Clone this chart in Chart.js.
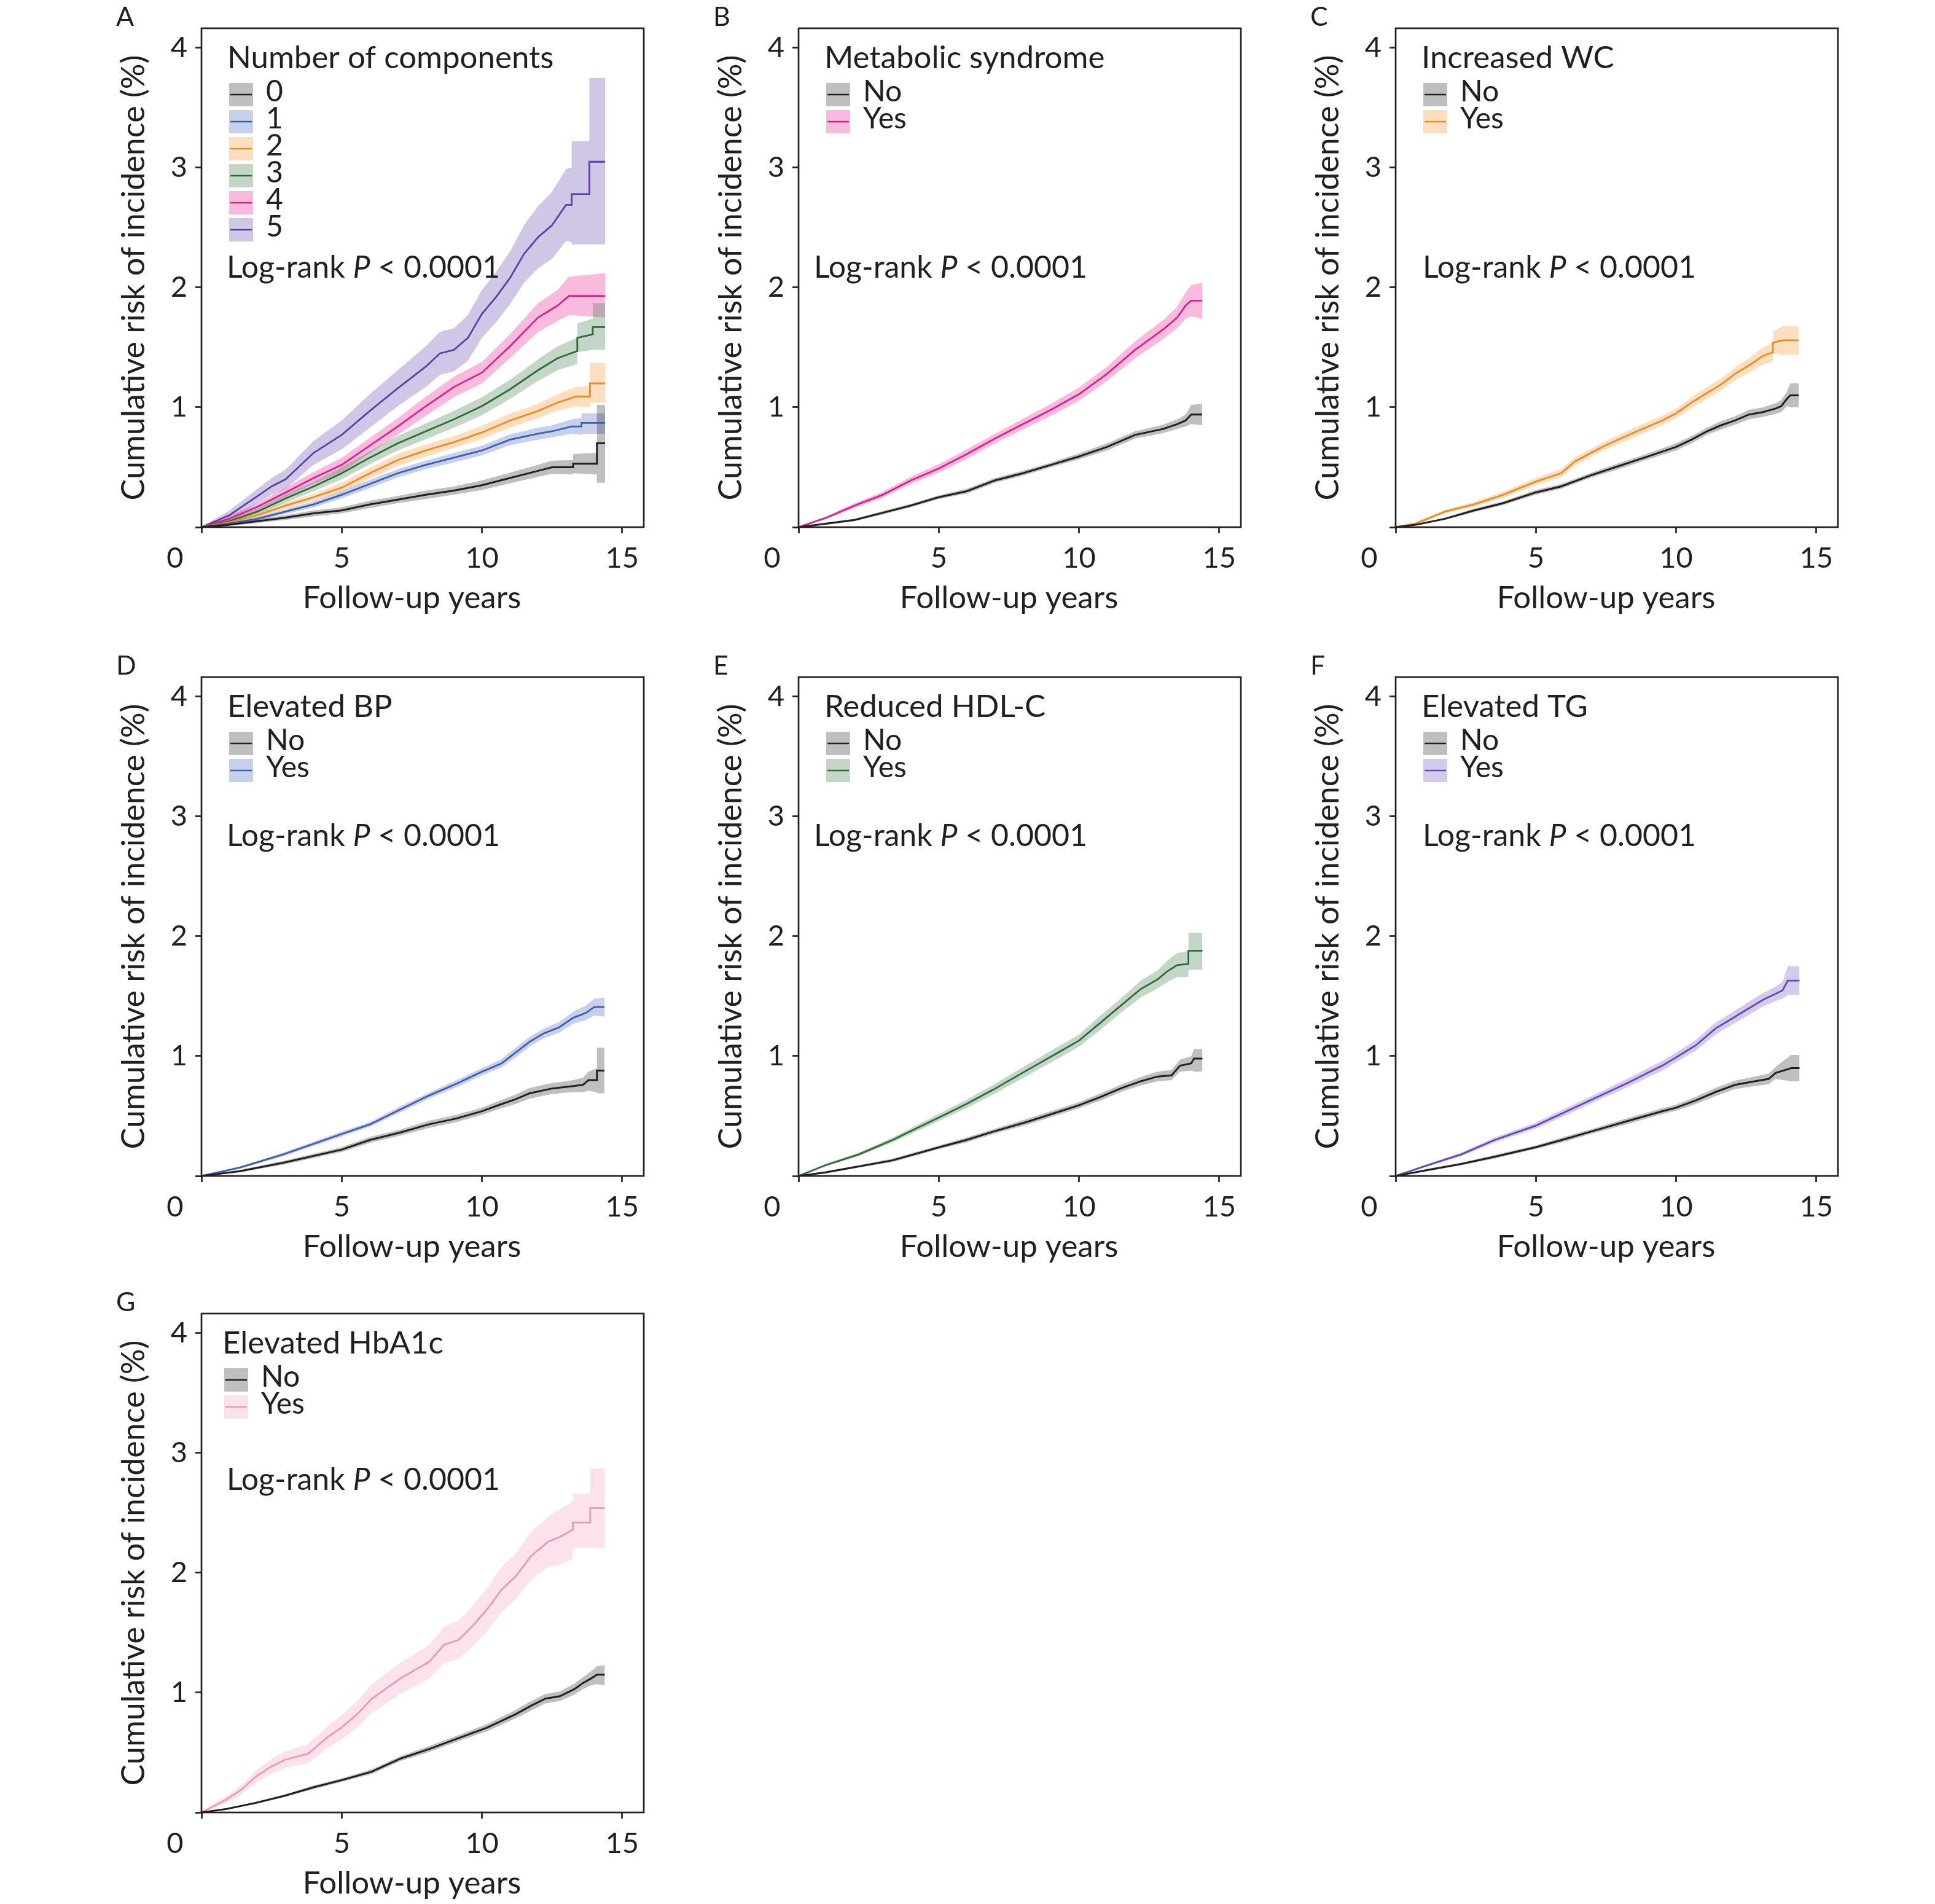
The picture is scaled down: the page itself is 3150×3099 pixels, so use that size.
<!DOCTYPE html>
<html>
<head>
<meta charset="utf-8">
<script src="https://cdn.jsdelivr.net/npm/chart.js@4.4.1/dist/chart.umd.min.js"></script>
<style>
  html, body { margin: 0; padding: 0; background: #ffffff; }
  body { width: 3150px; height: 3099px; position: relative; overflow: hidden; }
  canvas { position: absolute; }
</style>
</head>
<body>
<script>
// ---------------- DATA ----------------
const X_TICKS = [0, 5, 10, 15];
const Y_TICKS = [0, 1, 2, 3, 4];
const A_labels = ['0', '1', '2', '3', '4', '5'];
const NY_labels = ['No', 'Yes'];
const TITLES = ['Number of components', 'Metabolic syndrome', 'Increased WC', 'Elevated BP', 'Reduced HDL-C', 'Elevated TG', 'Elevated HbA1c'];
const LOGRANK = ['Log-rank ', 'P', ' < 0.0001'];

// Panel A
const A0_t   = [0, 1, 2, 3, 4, 5, 6, 7, 8, 9, 10, 11, 12, 12.5, 13.25, 13.25, 14.1, 14.1, 14.39];
const A0_est = [0, 0.02, 0.05, 0.08, 0.115, 0.14, 0.19, 0.23, 0.27, 0.305, 0.35, 0.41, 0.47, 0.50, 0.50, 0.53, 0.53, 0.70, 0.70];
const A0_lo  = [0, 0.01, 0.035, 0.06, 0.09, 0.115, 0.16, 0.20, 0.235, 0.27, 0.31, 0.365, 0.42, 0.445, 0.44, 0.45, 0.44, 0.37, 0.37];
const A0_hi  = [0, 0.03, 0.065, 0.10, 0.14, 0.165, 0.22, 0.26, 0.305, 0.34, 0.39, 0.455, 0.52, 0.555, 0.56, 0.61, 0.62, 1.02, 1.02];

const A1_t   = [0, 1, 2, 3, 4, 5, 6, 7, 8, 9, 10, 11, 12, 12.5, 13.2, 13.55, 13.55, 14.39];
const A1_est = [0, 0.03, 0.07, 0.13, 0.19, 0.27, 0.36, 0.45, 0.52, 0.58, 0.64, 0.73, 0.78, 0.80, 0.84, 0.84, 0.87, 0.87];
const A1_lo  = [0, 0.02, 0.055, 0.11, 0.165, 0.24, 0.325, 0.415, 0.485, 0.54, 0.60, 0.685, 0.73, 0.75, 0.78, 0.77, 0.78, 0.78];
const A1_hi  = [0, 0.04, 0.085, 0.15, 0.215, 0.30, 0.395, 0.485, 0.555, 0.62, 0.68, 0.775, 0.83, 0.85, 0.90, 0.91, 0.95, 0.95];

const A2_t   = [0, 1, 2, 3, 4, 5, 6, 7, 8, 9, 10, 11, 12, 12.7, 13.35, 13.85, 13.85, 14.39];
const A2_est = [0, 0.04, 0.10, 0.18, 0.25, 0.33, 0.45, 0.56, 0.64, 0.71, 0.79, 0.89, 0.97, 1.04, 1.09, 1.09, 1.20, 1.20];
const A2_lo  = [0, 0.025, 0.08, 0.155, 0.22, 0.29, 0.405, 0.51, 0.59, 0.66, 0.735, 0.83, 0.91, 0.97, 1.01, 1.00, 1.04, 1.04];
const A2_hi  = [0, 0.055, 0.12, 0.205, 0.28, 0.37, 0.495, 0.61, 0.69, 0.76, 0.845, 0.95, 1.03, 1.11, 1.17, 1.18, 1.37, 1.37];

const A3_t   = [0, 1, 2, 3, 4, 5, 6, 7, 8, 9, 10, 11, 12, 12.7, 13.4, 13.4, 13.95, 13.95, 14.39];
const A3_est = [0, 0.05, 0.13, 0.24, 0.34, 0.45, 0.58, 0.70, 0.80, 0.90, 1.01, 1.15, 1.31, 1.41, 1.47, 1.58, 1.61, 1.67, 1.67];
const A3_lo  = [0, 0.03, 0.105, 0.205, 0.30, 0.40, 0.525, 0.64, 0.735, 0.83, 0.935, 1.07, 1.22, 1.31, 1.36, 1.46, 1.48, 1.48, 1.48];
const A3_hi  = [0, 0.07, 0.155, 0.275, 0.38, 0.50, 0.635, 0.76, 0.865, 0.97, 1.085, 1.23, 1.40, 1.51, 1.58, 1.70, 1.74, 1.87, 1.87];

const A4_t   = [0, 1, 2, 3, 4, 5, 6, 7, 8, 9, 10, 11, 12, 12.7, 13.1, 14.39];
const A4_est = [0, 0.07, 0.17, 0.29, 0.41, 0.52, 0.68, 0.84, 1.01, 1.17, 1.29, 1.51, 1.75, 1.85, 1.93, 1.93];
const A4_lo  = [0, 0.045, 0.14, 0.25, 0.36, 0.46, 0.615, 0.77, 0.93, 1.085, 1.20, 1.41, 1.63, 1.72, 1.77, 1.75];
const A4_hi  = [0, 0.095, 0.20, 0.33, 0.46, 0.58, 0.745, 0.91, 1.09, 1.255, 1.38, 1.61, 1.87, 1.98, 2.09, 2.12];

const A5_t   = [0, 1, 1.5, 2, 2.5, 3, 4, 5, 6, 7, 8, 8.5, 9, 9.5, 10, 10.5, 11, 11.5, 12, 12.5, 13, 13.2, 13.2, 13.83, 13.83, 14.39];
const A5_est = [0, 0.10, 0.18, 0.26, 0.34, 0.40, 0.62, 0.77, 0.97, 1.16, 1.34, 1.45, 1.48, 1.58, 1.78, 1.92, 2.08, 2.28, 2.42, 2.52, 2.69, 2.69, 2.78, 2.78, 3.05, 3.05];
const A5_lo  = [0, 0.06, 0.13, 0.20, 0.27, 0.32, 0.52, 0.65, 0.83, 1.01, 1.17, 1.27, 1.30, 1.39, 1.58, 1.71, 1.86, 2.04, 2.16, 2.24, 2.39, 2.38, 2.36, 2.36, 2.36, 2.36];
const A5_hi  = [0, 0.14, 0.23, 0.32, 0.41, 0.48, 0.72, 0.89, 1.11, 1.31, 1.51, 1.63, 1.66, 1.77, 1.98, 2.13, 2.30, 2.52, 2.68, 2.80, 2.99, 3.00, 3.22, 3.22, 3.75, 3.75];

// Panel B
const B_t    = [0, 1, 2, 3, 4, 5, 6, 7, 8, 9, 10, 11, 12, 13, 13.5, 13.8, 14.0, 14.39];
const B0_est = [0, 0.03, 0.06, 0.12, 0.18, 0.25, 0.30, 0.39, 0.45, 0.52, 0.59, 0.67, 0.77, 0.82, 0.86, 0.89, 0.94, 0.94];
const B0_lo  = [0, 0.02, 0.05, 0.105, 0.165, 0.235, 0.28, 0.37, 0.43, 0.50, 0.565, 0.64, 0.74, 0.785, 0.82, 0.84, 0.86, 0.85];
const B0_hi  = [0, 0.04, 0.07, 0.135, 0.195, 0.265, 0.32, 0.41, 0.47, 0.54, 0.615, 0.70, 0.80, 0.855, 0.90, 0.94, 1.02, 1.03];
const B1_est = [0, 0.08, 0.18, 0.27, 0.39, 0.49, 0.61, 0.74, 0.86, 0.98, 1.11, 1.28, 1.48, 1.65, 1.75, 1.85, 1.89, 1.89];
const B1_lo  = [0, 0.07, 0.16, 0.245, 0.36, 0.455, 0.57, 0.70, 0.815, 0.93, 1.055, 1.22, 1.41, 1.57, 1.66, 1.74, 1.76, 1.74];
const B1_hi  = [0, 0.09, 0.20, 0.295, 0.42, 0.525, 0.65, 0.78, 0.905, 1.03, 1.165, 1.34, 1.55, 1.73, 1.84, 1.96, 2.02, 2.04];

// Panel C
const C0_t   = [0, 0.72, 1.76, 2.8, 3.83, 5, 5.9, 6.93, 7.96, 9, 10, 10.55, 11.1, 11.6, 12.1, 12.6, 13.1, 13.55, 13.75, 13.95, 14.07, 14.37];
const C0_est = [0, 0.02, 0.07, 0.14, 0.20, 0.29, 0.34, 0.43, 0.51, 0.59, 0.67, 0.73, 0.80, 0.85, 0.89, 0.94, 0.96, 0.99, 1.01, 1.07, 1.10, 1.10];
const C0_lo  = [0, 0.015, 0.06, 0.125, 0.185, 0.27, 0.32, 0.41, 0.485, 0.565, 0.64, 0.70, 0.77, 0.815, 0.855, 0.90, 0.92, 0.945, 0.96, 1.01, 1.00, 1.00];
const C0_hi  = [0, 0.025, 0.08, 0.155, 0.215, 0.31, 0.36, 0.45, 0.535, 0.615, 0.70, 0.76, 0.83, 0.885, 0.925, 0.98, 1.00, 1.035, 1.06, 1.13, 1.20, 1.20];
const C1_t   = [0, 0.72, 1.76, 2.8, 3.83, 5, 5.9, 6.4, 7.45, 8.5, 9.5, 10, 10.55, 11.1, 11.6, 12.1, 12.6, 13.1, 13.45, 13.45, 13.8, 14.37];
const C1_est = [0, 0.03, 0.13, 0.19, 0.27, 0.38, 0.45, 0.55, 0.68, 0.79, 0.89, 0.95, 1.04, 1.12, 1.19, 1.28, 1.35, 1.43, 1.46, 1.54, 1.56, 1.56];
const C1_lo  = [0, 0.02, 0.115, 0.17, 0.245, 0.35, 0.415, 0.515, 0.645, 0.75, 0.85, 0.91, 0.995, 1.07, 1.14, 1.225, 1.29, 1.36, 1.38, 1.45, 1.44, 1.44];
const C1_hi  = [0, 0.04, 0.145, 0.21, 0.295, 0.41, 0.485, 0.585, 0.715, 0.83, 0.93, 0.99, 1.085, 1.17, 1.24, 1.335, 1.41, 1.50, 1.54, 1.63, 1.68, 1.68];

// Panel D
const D0_t   = [0, 1.37, 2.92, 5, 6, 7.05, 8.1, 9.1, 10, 10.7, 11.2, 11.7, 12.5, 13.25, 13.6, 13.8, 14.1, 14.1, 14.37];
const D0_est = [0, 0.04, 0.11, 0.22, 0.30, 0.36, 0.43, 0.48, 0.54, 0.60, 0.64, 0.69, 0.73, 0.75, 0.76, 0.80, 0.80, 0.88, 0.88];
const D0_lo  = [0, 0.03, 0.095, 0.20, 0.275, 0.335, 0.40, 0.45, 0.51, 0.565, 0.60, 0.645, 0.685, 0.70, 0.70, 0.71, 0.70, 0.69, 0.69];
const D0_hi  = [0, 0.05, 0.125, 0.24, 0.325, 0.385, 0.46, 0.51, 0.57, 0.635, 0.68, 0.735, 0.775, 0.80, 0.82, 0.87, 0.90, 1.07, 1.07];
const D1_t   = [0, 1.37, 2.92, 5, 6, 7.05, 8.1, 9.1, 10, 10.7, 11.2, 11.7, 12.2, 12.75, 13.25, 13.7, 14, 14.37];
const D1_est = [0, 0.07, 0.18, 0.35, 0.43, 0.55, 0.67, 0.77, 0.87, 0.94, 1.03, 1.12, 1.19, 1.24, 1.32, 1.36, 1.41, 1.41];
const D1_lo  = [0, 0.06, 0.165, 0.33, 0.41, 0.525, 0.645, 0.74, 0.84, 0.905, 0.99, 1.08, 1.15, 1.195, 1.27, 1.30, 1.34, 1.33];
const D1_hi  = [0, 0.08, 0.195, 0.37, 0.45, 0.575, 0.695, 0.80, 0.90, 0.975, 1.07, 1.16, 1.23, 1.285, 1.37, 1.42, 1.48, 1.49];

// Panel E
const E0_t   = [0, 0.96, 2.15, 3.35, 5.02, 5.98, 6.94, 8.13, 9.33, 10, 10.77, 11.48, 12.2, 12.8, 13.3, 13.6, 14.0, 14.1, 14.4];
const E0_est = [0, 0.03, 0.08, 0.13, 0.24, 0.30, 0.37, 0.45, 0.54, 0.59, 0.66, 0.73, 0.79, 0.83, 0.84, 0.92, 0.94, 0.98, 0.98];
const E0_lo  = [0, 0.02, 0.07, 0.115, 0.225, 0.28, 0.35, 0.425, 0.515, 0.565, 0.63, 0.70, 0.755, 0.79, 0.80, 0.87, 0.88, 0.87, 0.87];
const E0_hi  = [0, 0.04, 0.09, 0.145, 0.255, 0.32, 0.39, 0.475, 0.565, 0.615, 0.69, 0.76, 0.825, 0.87, 0.885, 0.97, 1.00, 1.06, 1.06];
const E1_t   = [0, 0.96, 2.15, 3.35, 5.02, 5.98, 6.94, 8.13, 9.33, 10, 10.77, 11.48, 12.2, 12.8, 13.16, 13.5, 13.9, 13.9, 14.4];
const E1_est = [0, 0.09, 0.18, 0.30, 0.49, 0.60, 0.72, 0.88, 1.04, 1.13, 1.28, 1.42, 1.56, 1.64, 1.71, 1.76, 1.77, 1.88, 1.88];
const E1_lo  = [0, 0.08, 0.165, 0.28, 0.46, 0.565, 0.68, 0.835, 0.99, 1.08, 1.22, 1.36, 1.49, 1.565, 1.62, 1.66, 1.66, 1.72, 1.72];
const E1_hi  = [0, 0.10, 0.195, 0.32, 0.52, 0.635, 0.76, 0.925, 1.09, 1.18, 1.34, 1.48, 1.63, 1.715, 1.80, 1.86, 1.88, 2.03, 2.03];

// Panel F
const F0_t   = [0, 1.15, 2.34, 3.53, 5, 5.92, 7.11, 8.3, 9.5, 10, 10.7, 11.4, 12.1, 12.8, 13.3, 13.55, 14.1, 14.4];
const F0_est = [0, 0.05, 0.10, 0.16, 0.24, 0.30, 0.38, 0.46, 0.54, 0.57, 0.63, 0.70, 0.76, 0.79, 0.81, 0.86, 0.90, 0.90];
const F0_lo  = [0, 0.04, 0.09, 0.145, 0.225, 0.28, 0.36, 0.435, 0.515, 0.545, 0.60, 0.665, 0.725, 0.75, 0.765, 0.81, 0.79, 0.79];
const F0_hi  = [0, 0.06, 0.11, 0.175, 0.255, 0.32, 0.40, 0.485, 0.565, 0.595, 0.66, 0.735, 0.795, 0.83, 0.855, 0.91, 1.01, 1.01];
const F1_t   = [0, 1.15, 2.34, 3.53, 5, 5.92, 7.11, 8.3, 9.5, 10, 10.7, 11.4, 11.9, 12.6, 13.1, 13.55, 13.8, 13.98, 14.4];
const F1_est = [0, 0.09, 0.18, 0.30, 0.42, 0.52, 0.65, 0.78, 0.92, 0.99, 1.09, 1.23, 1.30, 1.40, 1.47, 1.52, 1.55, 1.63, 1.63];
const F1_lo  = [0, 0.08, 0.165, 0.28, 0.395, 0.49, 0.62, 0.745, 0.88, 0.95, 1.045, 1.18, 1.25, 1.345, 1.415, 1.46, 1.48, 1.51, 1.51];
const F1_hi  = [0, 0.10, 0.195, 0.32, 0.445, 0.55, 0.68, 0.815, 0.96, 1.03, 1.135, 1.28, 1.35, 1.455, 1.525, 1.58, 1.62, 1.75, 1.75];

// Panel G
const G0_t   = [0, 0.9, 1.94, 2.97, 4, 5, 6.07, 7.1, 8.13, 9.16, 10.2, 11.2, 11.75, 12.26, 12.78, 13.3, 13.6, 13.9, 14.1, 14.38];
const G0_est = [0, 0.03, 0.08, 0.14, 0.21, 0.27, 0.34, 0.45, 0.53, 0.62, 0.71, 0.82, 0.89, 0.95, 0.97, 1.03, 1.08, 1.12, 1.15, 1.15];
const G0_lo  = [0, 0.025, 0.07, 0.13, 0.195, 0.255, 0.32, 0.43, 0.505, 0.595, 0.68, 0.785, 0.85, 0.91, 0.93, 0.985, 1.03, 1.06, 1.07, 1.06];
const G0_hi  = [0, 0.035, 0.09, 0.15, 0.225, 0.285, 0.36, 0.47, 0.555, 0.645, 0.74, 0.855, 0.93, 0.99, 1.01, 1.075, 1.13, 1.18, 1.22, 1.23];
const G1_t   = [0, 0.9, 1.42, 1.94, 2.46, 2.97, 3.8, 4.5, 5, 5.55, 6.07, 7.1, 8.13, 8.65, 9.16, 9.68, 10.2, 10.7, 11.2, 11.75, 12.36, 12.78, 13.24, 13.24, 13.86, 13.86, 14.38];
const G1_est = [0, 0.11, 0.19, 0.30, 0.38, 0.44, 0.49, 0.63, 0.71, 0.82, 0.95, 1.12, 1.26, 1.40, 1.44, 1.56, 1.70, 1.86, 1.97, 2.14, 2.26, 2.30, 2.36, 2.42, 2.42, 2.54, 2.54];
const G1_lo  = [0, 0.08, 0.15, 0.25, 0.32, 0.37, 0.41, 0.54, 0.61, 0.71, 0.83, 0.99, 1.12, 1.25, 1.28, 1.39, 1.52, 1.67, 1.78, 1.94, 2.05, 2.07, 2.12, 2.21, 2.21, 2.21, 2.21];
const G1_hi  = [0, 0.14, 0.23, 0.35, 0.44, 0.51, 0.57, 0.72, 0.81, 0.93, 1.07, 1.25, 1.40, 1.55, 1.60, 1.73, 1.88, 2.05, 2.16, 2.34, 2.47, 2.53, 2.60, 2.66, 2.66, 2.87, 2.87];

// ---------------- STYLE ----------------
const INK = '#231f20';
const FONT = 'Lato';
const STY = {
  k:  { line: '#231f20', band: 'rgba(0,0,0,0.25)' },
  b:  { line: '#3d5db5', band: 'rgba(70,100,190,0.30)' },
  o:  { line: '#ef8a25', band: 'rgba(250,160,70,0.35)' },
  g:  { line: '#2d6a35', band: 'rgba(60,120,70,0.30)' },
  m:  { line: '#e0208a', band: 'rgba(235,60,160,0.35)' },
  p:  { line: '#5b40a8', band: 'rgba(110,80,180,0.32)' },
  p2: { line: '#6448b8', band: 'rgba(120,90,195,0.32)' },
  pk: { line: '#f097b5', band: 'rgba(245,150,180,0.28)' }
};

const PANELS = [
  { letter: 'A', col: 0, row: 0, title: TITLES[0], labels: A_labels, lrx: 41, lry: 406, legx: 45,
    series: [[A0_t, A0_est, A0_lo, A0_hi, 'k'], [A1_t, A1_est, A1_lo, A1_hi, 'b'], [A2_t, A2_est, A2_lo, A2_hi, 'o'],
             [A3_t, A3_est, A3_lo, A3_hi, 'g'], [A4_t, A4_est, A4_lo, A4_hi, 'm'], [A5_t, A5_est, A5_lo, A5_hi, 'p']] },
  { letter: 'B', col: 1, row: 0, title: TITLES[1], labels: NY_labels, lrx: 25, lry: 406, legx: 45,
    series: [[B_t, B0_est, B0_lo, B0_hi, 'k'], [B_t, B1_est, B1_lo, B1_hi, 'm']] },
  { letter: 'C', col: 2, row: 0, title: TITLES[2], labels: NY_labels, lrx: 44, lry: 406, legx: 45,
    series: [[C0_t, C0_est, C0_lo, C0_hi, 'k'], [C1_t, C1_est, C1_lo, C1_hi, 'o']] },
  { letter: 'D', col: 0, row: 1, title: TITLES[3], labels: NY_labels, lrx: 41, lry: 275, legx: 45,
    series: [[D0_t, D0_est, D0_lo, D0_hi, 'k'], [D1_t, D1_est, D1_lo, D1_hi, 'b']] },
  { letter: 'E', col: 1, row: 1, title: TITLES[4], labels: NY_labels, lrx: 25, lry: 275, legx: 45,
    series: [[E0_t, E0_est, E0_lo, E0_hi, 'k'], [E1_t, E1_est, E1_lo, E1_hi, 'g']] },
  { letter: 'F', col: 2, row: 1, title: TITLES[5], labels: NY_labels, lrx: 44, lry: 275, legx: 45,
    series: [[F0_t, F0_est, F0_lo, F0_hi, 'k'], [F1_t, F1_est, F1_lo, F1_hi, 'p2']] },
  { letter: 'G', col: 0, row: 2, title: TITLES[6], labels: NY_labels, lrx: 41, lry: 287, legx: 37,
    series: [[G0_t, G0_est, G0_lo, G0_hi, 'k'], [G1_t, G1_est, G1_lo, G1_hi, 'pk']] }
];

// ---------------- LAYOUT ----------------
const PL0 = 328, DX = 972;
const ROW_TOP = [46, 1102, 2138];                  // top of each row's plot area
const L = 240, T = 46, W = 720, H = 812, R = 40, B = 180;
const XMAX = 15.77, YMAX = 4.164;
const TICK_SIZE = 47, TICK_LEN = 10, TICK_PAD = 13;
const TITLE_SIZE = 52, XTITLE_SIZE = 51, LEG_TITLE_SIZE = 51, LEG_SIZE = 48, LR_SIZE = 50;

const pts = (t, v) => t.map((x, i) => ({ x: x, y: v[i] }));

const decor = {
  id: 'kmDecor',
  afterDraw(chart, args, o) {
    const a = chart.chartArea, ctx = chart.ctx;
    ctx.save();
    // frame
    ctx.strokeStyle = INK; ctx.lineWidth = 2.7;
    ctx.strokeRect(a.left, a.top, a.right - a.left, a.bottom - a.top);
    ctx.fillStyle = INK;
    // panel letter
    ctx.textAlign = 'left'; ctx.textBaseline = 'alphabetic';
    ctx.font = `43px ${FONT}`;
    ctx.fillText(o.letter, a.left - 139, a.top - 4);
    // y title
    ctx.save();
    ctx.translate(a.left - 93, (a.top + a.bottom) / 2);
    ctx.rotate(-Math.PI / 2);
    ctx.textAlign = 'center';
    ctx.font = `${TITLE_SIZE}px ${FONT}`;
    ctx.fillText('Cumulative risk of incidence (%)', 0, 0);
    ctx.restore();
    // x title
    ctx.textAlign = 'center';
    ctx.font = `${XTITLE_SIZE}px ${FONT}`;
    ctx.fillText('Follow-up years', chart.scales.x.getPixelForValue(7.5), a.bottom + 132);
    // shared "0" corner label
    ctx.font = `${TICK_SIZE}px ${FONT}`;
    ctx.textBaseline = 'middle';
    ctx.fillText('0', a.left - 43, a.bottom + TICK_LEN + TICK_PAD + TICK_SIZE * 1.2 / 2);
    // legend
    ctx.textBaseline = 'alphabetic'; ctx.textAlign = 'left';
    const gx = a.left + o.legx;
    ctx.font = `${LEG_TITLE_SIZE}px ${FONT}`;
    ctx.fillText(o.title, gx - 3, a.top + 65);
    ctx.font = `${LEG_SIZE}px ${FONT}`;
    o.items.forEach((it, i) => {
      const y0 = a.top + 89 + i * 44;
      ctx.fillStyle = STY[it.s].band;
      ctx.fillRect(gx, y0, 39, 38);
      ctx.strokeStyle = STY[it.s].line; ctx.lineWidth = 2.6;
      ctx.beginPath(); ctx.moveTo(gx + 2, y0 + 19); ctx.lineTo(gx + 37, y0 + 19); ctx.stroke();
      ctx.fillStyle = INK;
      ctx.fillText(it.label, gx + 60, y0 + 19 + 11);
    });
    // log-rank
    const ly = a.top + o.lry;
    let lx = a.left + o.lrx;
    ctx.font = `${LR_SIZE}px ${FONT}`;
    ctx.fillText(LOGRANK[0], lx, ly); lx += ctx.measureText(LOGRANK[0]).width;
    ctx.font = `italic ${LR_SIZE}px ${FONT}`;
    ctx.fillText(LOGRANK[1], lx, ly); lx += ctx.measureText(LOGRANK[1]).width;
    ctx.font = `${LR_SIZE}px ${FONT}`;
    ctx.fillText(LOGRANK[2], lx, ly);
    ctx.restore();
  }
};

PANELS.forEach(p => {
  const cv = document.createElement('canvas');
  cv.width = L + W + R; cv.height = T + H + B;
  cv.style.left = (PL0 + p.col * DX - L) + 'px';
  cv.style.top = (ROW_TOP[p.row] - T) + 'px';
  cv.style.width = cv.width + 'px'; cv.style.height = cv.height + 'px';
  document.body.appendChild(cv);

  const datasets = [];
  p.series.forEach(s => {
    const st = STY[s[4]];
    datasets.push({ data: pts(s[0], s[1]), borderColor: st.line, borderWidth: s[4] === 'k' ? 3 : 2.8,
      pointRadius: 0, fill: false, tension: 0, order: 0 });
  });
  p.series.forEach(s => {
    const st = STY[s[4]];
    datasets.push({ data: pts(s[0], s[3]), borderColor: 'transparent', borderWidth: 0, pointRadius: 0,
      fill: '+1', backgroundColor: st.band, tension: 0, order: 1 });
    datasets.push({ data: pts(s[0], s[2]), borderColor: 'transparent', borderWidth: 0, pointRadius: 0,
      fill: false, tension: 0, order: 1 });
  });

  const tickCommon = { font: { family: FONT, size: TICK_SIZE }, color: INK, padding: TICK_PAD,
    maxRotation: 0, minRotation: 0, autoSkip: false };
  const gridCommon = { display: true, drawOnChartArea: false, drawTicks: true, tickLength: TICK_LEN,
    tickWidth: 2.7, tickColor: INK };

  new Chart(cv, {
    type: 'line',
    data: { datasets },
    options: {
      responsive: false, animation: false, devicePixelRatio: 1, events: [],
      layout: { padding: { left: 0, top: T, right: R, bottom: 0 } },
      plugins: {
        legend: { display: false }, tooltip: { enabled: false },
        kmDecor: { letter: p.letter, title: p.title, lrx: p.lrx, lry: p.lry, legx: p.legx,
          items: p.series.map((s, i) => ({ s: s[4], label: p.labels[i] })) }
      },
      scales: {
        x: { type: 'linear', min: 0, max: XMAX,
          afterBuildTicks: sc => { sc.ticks = X_TICKS.map(v => ({ value: v })); },
          afterFit: sc => { sc.height = B; },
          ticks: Object.assign({ callback: v => (v === 0 ? '' : String(v)) }, tickCommon),
          grid: gridCommon, border: { display: false } },
        y: { type: 'linear', min: 0, max: YMAX,
          afterBuildTicks: sc => { sc.ticks = Y_TICKS.map(v => ({ value: v })); },
          afterFit: sc => { sc.width = L; },
          ticks: Object.assign({ callback: v => (v === 0 ? '' : String(v)) }, tickCommon),
          grid: gridCommon, border: { display: false } }
      }
    },
    plugins: [decor]
  });
});
</script>
</body>
</html>
